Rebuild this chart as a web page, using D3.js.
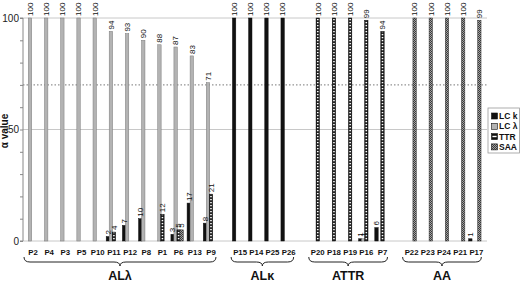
<!DOCTYPE html>
<html><head><meta charset="utf-8">
<script src="https://cdn.jsdelivr.net/npm/d3@7"></script>
<style>body{margin:0;background:#fff}svg{display:block;font-family:"Liberation Sans",Arial,sans-serif}</style>
</head><body>
<svg id="c" width="520" height="283"></svg>
<script>
const categories = ["P2","P4","P3","P5","P10","P11","P12","P8","P1","P6","P13","P9","P15","P14","P25","P26","P20","P18","P19","P16","P7","P22","P23","P24","P21","P17"];
const groups = ["ALλ","ALκ","ATTR","AA"];
const groupSizes = [12,4,5,5];
const seriesNames = ["LC k","LC λ","TTR","SAA"];
const lcK = [0,0,0,0,0,2,7,10,0,3,17,8, 100,100,100,100, 0,0,0,1,6, 0,0,0,0,1];
const lcL = [100,100,100,100,100,94,93,90,88,87,83,71, 0,0,0,0, 0,0,0,1,0, 0,0,0,0,0];
const ttr = [0,0,0,0,0,4,0,0,12,5,0,21, 0,0,0,0, 100,100,100,99,94, 0,0,0,0,0];
const saa = [0,0,0,0,0,0,0,0,0,5,0,0, 0,0,0,0, 0,0,0,0,0, 100,100,100,100,99];
const yTickLabels = [0,50,100];

const svg = d3.select("#c");
const defs = svg.append("defs");
// TTR: white squares on black (ladder)
const pT = defs.append("pattern").attr("id","pTTR").attr("patternUnits","userSpaceOnUse").attr("width",10).attr("height",3);
pT.append("rect").attr("y",0.9).attr("width",10).attr("height",1.4).attr("fill","#fff");
// SAA: checker
const pS = defs.append("pattern").attr("id","pSAA").attr("patternUnits","userSpaceOnUse").attr("width",2).attr("height",2);
pS.append("rect").attr("width",2).attr("height",2).attr("fill","#a0a0a0");
pS.append("rect").attr("width",1).attr("height",1).attr("fill","#3a3a3a");
pS.append("rect").attr("x",1).attr("y",1).attr("width",1).attr("height",1).attr("fill","#3a3a3a");

// positions: index with gaps between groups
const gap = 1.8;
const posIdx = [];
let p = 0;
groupSizes.forEach((n,gi)=>{ for(let i=0;i<n;i++){ posIdx.push(p); p+=1; } p += gap-1; });
const lastIdx = posIdx[posIdx.length-1];
const x = d3.scaleLinear().domain([0,lastIdx]).range([33, 33+lastIdx*16.18]);
const y = d3.scaleLinear().domain([0,100]).range([241,18]);
const plotL = 23, plotR = 487;

// gridlines
svg.append("g").selectAll("line").data([50,100]).join("line")
  .attr("x1",plotL).attr("x2",plotR).attr("y1",d=>y(d)).attr("y2",d=>y(d))
  .attr("stroke","#c8c8c8").attr("stroke-width",1);
svg.append("line").attr("x1",plotL).attr("x2",plotR).attr("y1",y(70)).attr("y2",y(70))
  .attr("stroke","#555").attr("stroke-width",0.8).attr("stroke-dasharray","1.5,2");
svg.append("line").attr("x1",plotL).attr("x2",plotR).attr("y1",y(0)).attr("y2",y(0))
  .attr("stroke","#c8c8c8").attr("stroke-width",1);

// y axis
const yAxis = d3.axisLeft(y).tickValues(d3.range(0,101,10)).tickSize(3)
  .tickFormat(d=>yTickLabels.includes(d)?d:"");
const ga = svg.append("g").attr("transform",`translate(${plotL},0)`).call(yAxis);
ga.select(".domain").attr("stroke","#888").attr("d",`M-3,${y(100)}H0V${y(0)}H-3`);
ga.selectAll(".tick line").attr("stroke","#888");
ga.selectAll(".tick text").attr("font-size",10).attr("fill","#222").attr("x",-4)
  .style("font-family","Liberation Sans, Arial, sans-serif");

svg.append("text").attr("transform",`translate(8,131) rotate(-90)`).attr("text-anchor","middle")
  .attr("font-size",10).attr("font-weight","bold").attr("fill","#111").text("α value");

// bars
const bw = 3.4;
const offs = [-6,-3,0,3];
const seriesData = [lcK,lcL,ttr,saa];
const fills = ["#111","#b3b3b3","#111","url(#pSAA)"];
const strokes = ["#111","#7a7a7a","#111","#333"];
const bars = [];
seriesData.forEach((arr,si)=>arr.forEach((v,i)=>{ if(v>0) bars.push({si,i,v}); }));
const bx = d=>x(posIdx[d.i])+offs[d.si]-bw/2;
const gb = svg.append("g");
gb.selectAll("rect.b").data(bars).join("rect").attr("class","b")
  .attr("x",bx).attr("width",bw)
  .attr("y",d=>y(d.v)).attr("height",d=>y(0)-y(d.v))
  .attr("fill",d=>fills[d.si]).attr("stroke",d=>strokes[d.si]).attr("stroke-width",0.5);
gb.selectAll("rect.t").data(bars.filter(d=>d.si===2)).join("rect").attr("class","t")
  .attr("x",d=>bx(d)+0.9).attr("width",bw-1.8)
  .attr("y",d=>y(d.v)+0.5).attr("height",d=>Math.max(0,y(0)-y(d.v)-1))
  .attr("fill","url(#pTTR)");
// value labels
svg.append("g").selectAll("text").data(bars).join("text")
  .attr("transform",d=>`translate(${x(posIdx[d.i])+offs[d.si]},${y(d.v)-2}) rotate(-90)`)
  .attr("dy","0.35em").attr("font-size",8).attr("fill","#111").text(d=>d.v);

// category labels
svg.append("g").selectAll("text").data(categories).join("text")
  .attr("x",(d,i)=>x(posIdx[i])).attr("y",255).attr("text-anchor","middle")
  .attr("font-size",7.8).attr("font-weight","bold").attr("fill","#111").text(d=>d);

// braces + group labels
let start = 0;
groups.forEach((g,gi)=>{
  const n = groupSizes[gi];
  const x0 = x(posIdx[start]) - 9, x1 = x(posIdx[start+n-1]) + 5;
  const m = (x0+x1)/2, y0=257, y1=262, y2=266, r=6;
  svg.append("path").attr("d",`M${x0},${y0}Q${x0},${y1} ${x0+r},${y1}L${m-r},${y1}Q${m},${y1} ${m},${y2}Q${m},${y1} ${m+r},${y1}L${x1-r},${y1}Q${x1},${y1} ${x1},${y0}`)
    .attr("fill","none").attr("stroke","#222").attr("stroke-width",1);
  svg.append("text").attr("x",m).attr("y",280).attr("text-anchor","middle")
    .attr("font-size",12.5).attr("font-weight","bold").attr("fill","#111").text(g);
  start += n;
});

// legend
const lg = svg.append("g").attr("transform","translate(488,108)");
lg.append("rect").attr("width",31.5).attr("height",45).attr("fill","#fff").attr("stroke","#999").attr("stroke-width",0.8);
seriesNames.forEach((s,si)=>{
  const yy = 8 + si*10.3;
  const sw = lg.append("rect").attr("x",3.5).attr("y",yy-3).attr("width",6).attr("height",6)
    .attr("fill",si===2?"#111":fills[si]).attr("stroke","#111").attr("stroke-width",0.6);
  if(si===2) lg.append("rect").attr("x",4.4).attr("y",yy-0.8).attr("width",4.2).attr("height",1.4).attr("fill","#fff");
  lg.append("text").attr("x",11).attr("y",yy).attr("dy","0.35em").attr("font-size",8.5)
    .attr("font-weight","bold").attr("fill","#111").text(s);
});
</script>
</body></html>
